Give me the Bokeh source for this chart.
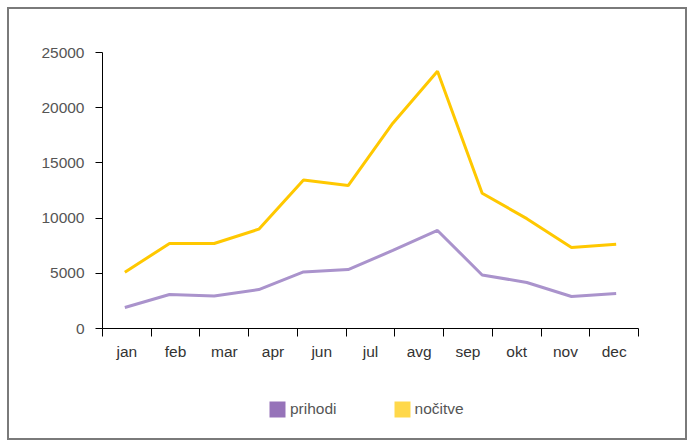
from bokeh.plotting import figure
from bokeh.layouts import column
from bokeh.models import (Range1d, LinearAxis, FixedTicker, Legend, LegendItem)
from bokeh.embed import file_html
from bokeh.resources import INLINE

# data
months = ["jan", "feb", "mar", "apr", "maj", "jun", "jul", "avg", "sep", "okt", "nov", "dec"]
prihodi = [1900, 3080, 2940, 3530, 5120, 5340, 7070, 8880, 4850, 4170, 2900, 3170]
nocitve = [5100, 7700, 7700, 9000, 13450, 12950, 18600, 23300, 12250, 9950, 7340, 7640]
axis_labels = ["jan", "feb", "mar", "apr", "jun", "jul", "avg", "sep", "okt", "nov", "dec"]
y_ticks = [0, 5000, 10000, 15000, 20000, 25000]
series_names = ["prihodi", "nočitve"]

FONT = "Liberation Sans"
C_PRI_LINE, C_NOC_LINE = "#AA93CC", "#FFC800"
C_PRI_BOX, C_NOC_BOX = "#9673B9", "#FFD84A"

# month slots: each month sits in the middle of its slot
xpos = [i + 0.5 for i in range(len(months))]

p = figure(width=676, height=360, x_range=Range1d(0, len(months)),
           y_range=Range1d(0, 25000), x_axis_location=None,
           output_backend="svg", toolbar_location=None,
           min_border_left=93, min_border_right=47, min_border_top=43, min_border_bottom=41)
p.outline_line_color = None
p.grid.visible = False

# y axis
ya = p.yaxis[0]
ya.ticker = FixedTicker(ticks=y_ticks)
ya.major_tick_out = 7
ya.major_tick_in = 0
ya.minor_tick_line_color = None
ya.axis_line_color = "#000000"
ya.major_tick_line_color = "#000000"
ya.major_label_text_color = "#555555"
ya.major_label_text_font = FONT
ya.major_label_text_font_size = "15.5px"
ya.major_label_standoff = 11

# x axis with 11 label slots
p.extra_x_ranges = {"lbl": Range1d(0, len(axis_labels))}
centers = [i + 0.5 for i in range(len(axis_labels))]
xa = LinearAxis(x_range_name="lbl",
                ticker=FixedTicker(ticks=centers, minor_ticks=list(range(len(axis_labels) + 1))),
                major_label_overrides={c: lab for c, lab in zip(centers, axis_labels)})
xa.major_tick_line_color = None
xa.major_tick_out = 0
xa.major_tick_in = 0
xa.minor_tick_out = 8
xa.minor_tick_in = 0
xa.minor_tick_line_color = "#000000"
xa.axis_line_color = "#000000"
xa.major_label_text_color = "#333333"
xa.major_label_text_font = FONT
xa.major_label_text_font_size = "15.5px"
xa.major_label_standoff = 6
p.add_layout(xa, "below")

# lines
p.line(xpos, nocitve, line_color=C_NOC_LINE, line_width=3)
p.line(xpos, prihodi, line_color=C_PRI_LINE, line_width=3)

# legend strip
p2 = figure(width=676, height=69, x_range=Range1d(0, 1), y_range=Range1d(0, 1),
            output_backend="svg", toolbar_location=None,
            min_border=0, min_border_left=0, min_border_right=0,
            min_border_top=0, min_border_bottom=0)
p2.axis.visible = False
p2.grid.visible = False
p2.outline_line_color = None
r1 = p2.vbar(x=[0.5], top=[0], bottom=0, width=0.1, fill_color=C_PRI_BOX, line_color=None)
r2 = p2.vbar(x=[0.5], top=[0], bottom=0, width=0.1, fill_color=C_NOC_BOX, line_color=None)
legend = Legend(items=[LegendItem(label=series_names[0], renderers=[r1]),
                       LegendItem(label=series_names[1], renderers=[r2])],
                orientation="horizontal", location=(165, 19),
                glyph_width=20, glyph_height=20, padding=0, margin=0,
                spacing=55, label_standoff=3,
                label_text_font=FONT, label_text_font_size="15.5px",
                label_text_color="#555555",
                border_line_color=None, background_fill_alpha=0)
p2.add_layout(legend, "center")

layout = column(p, p2, spacing=0,
                styles={"border": "2px solid #7a7a7a", "margin-left": "7px", "margin-top": "7px"})

open("out.html", "w").write(file_html(layout, INLINE))
